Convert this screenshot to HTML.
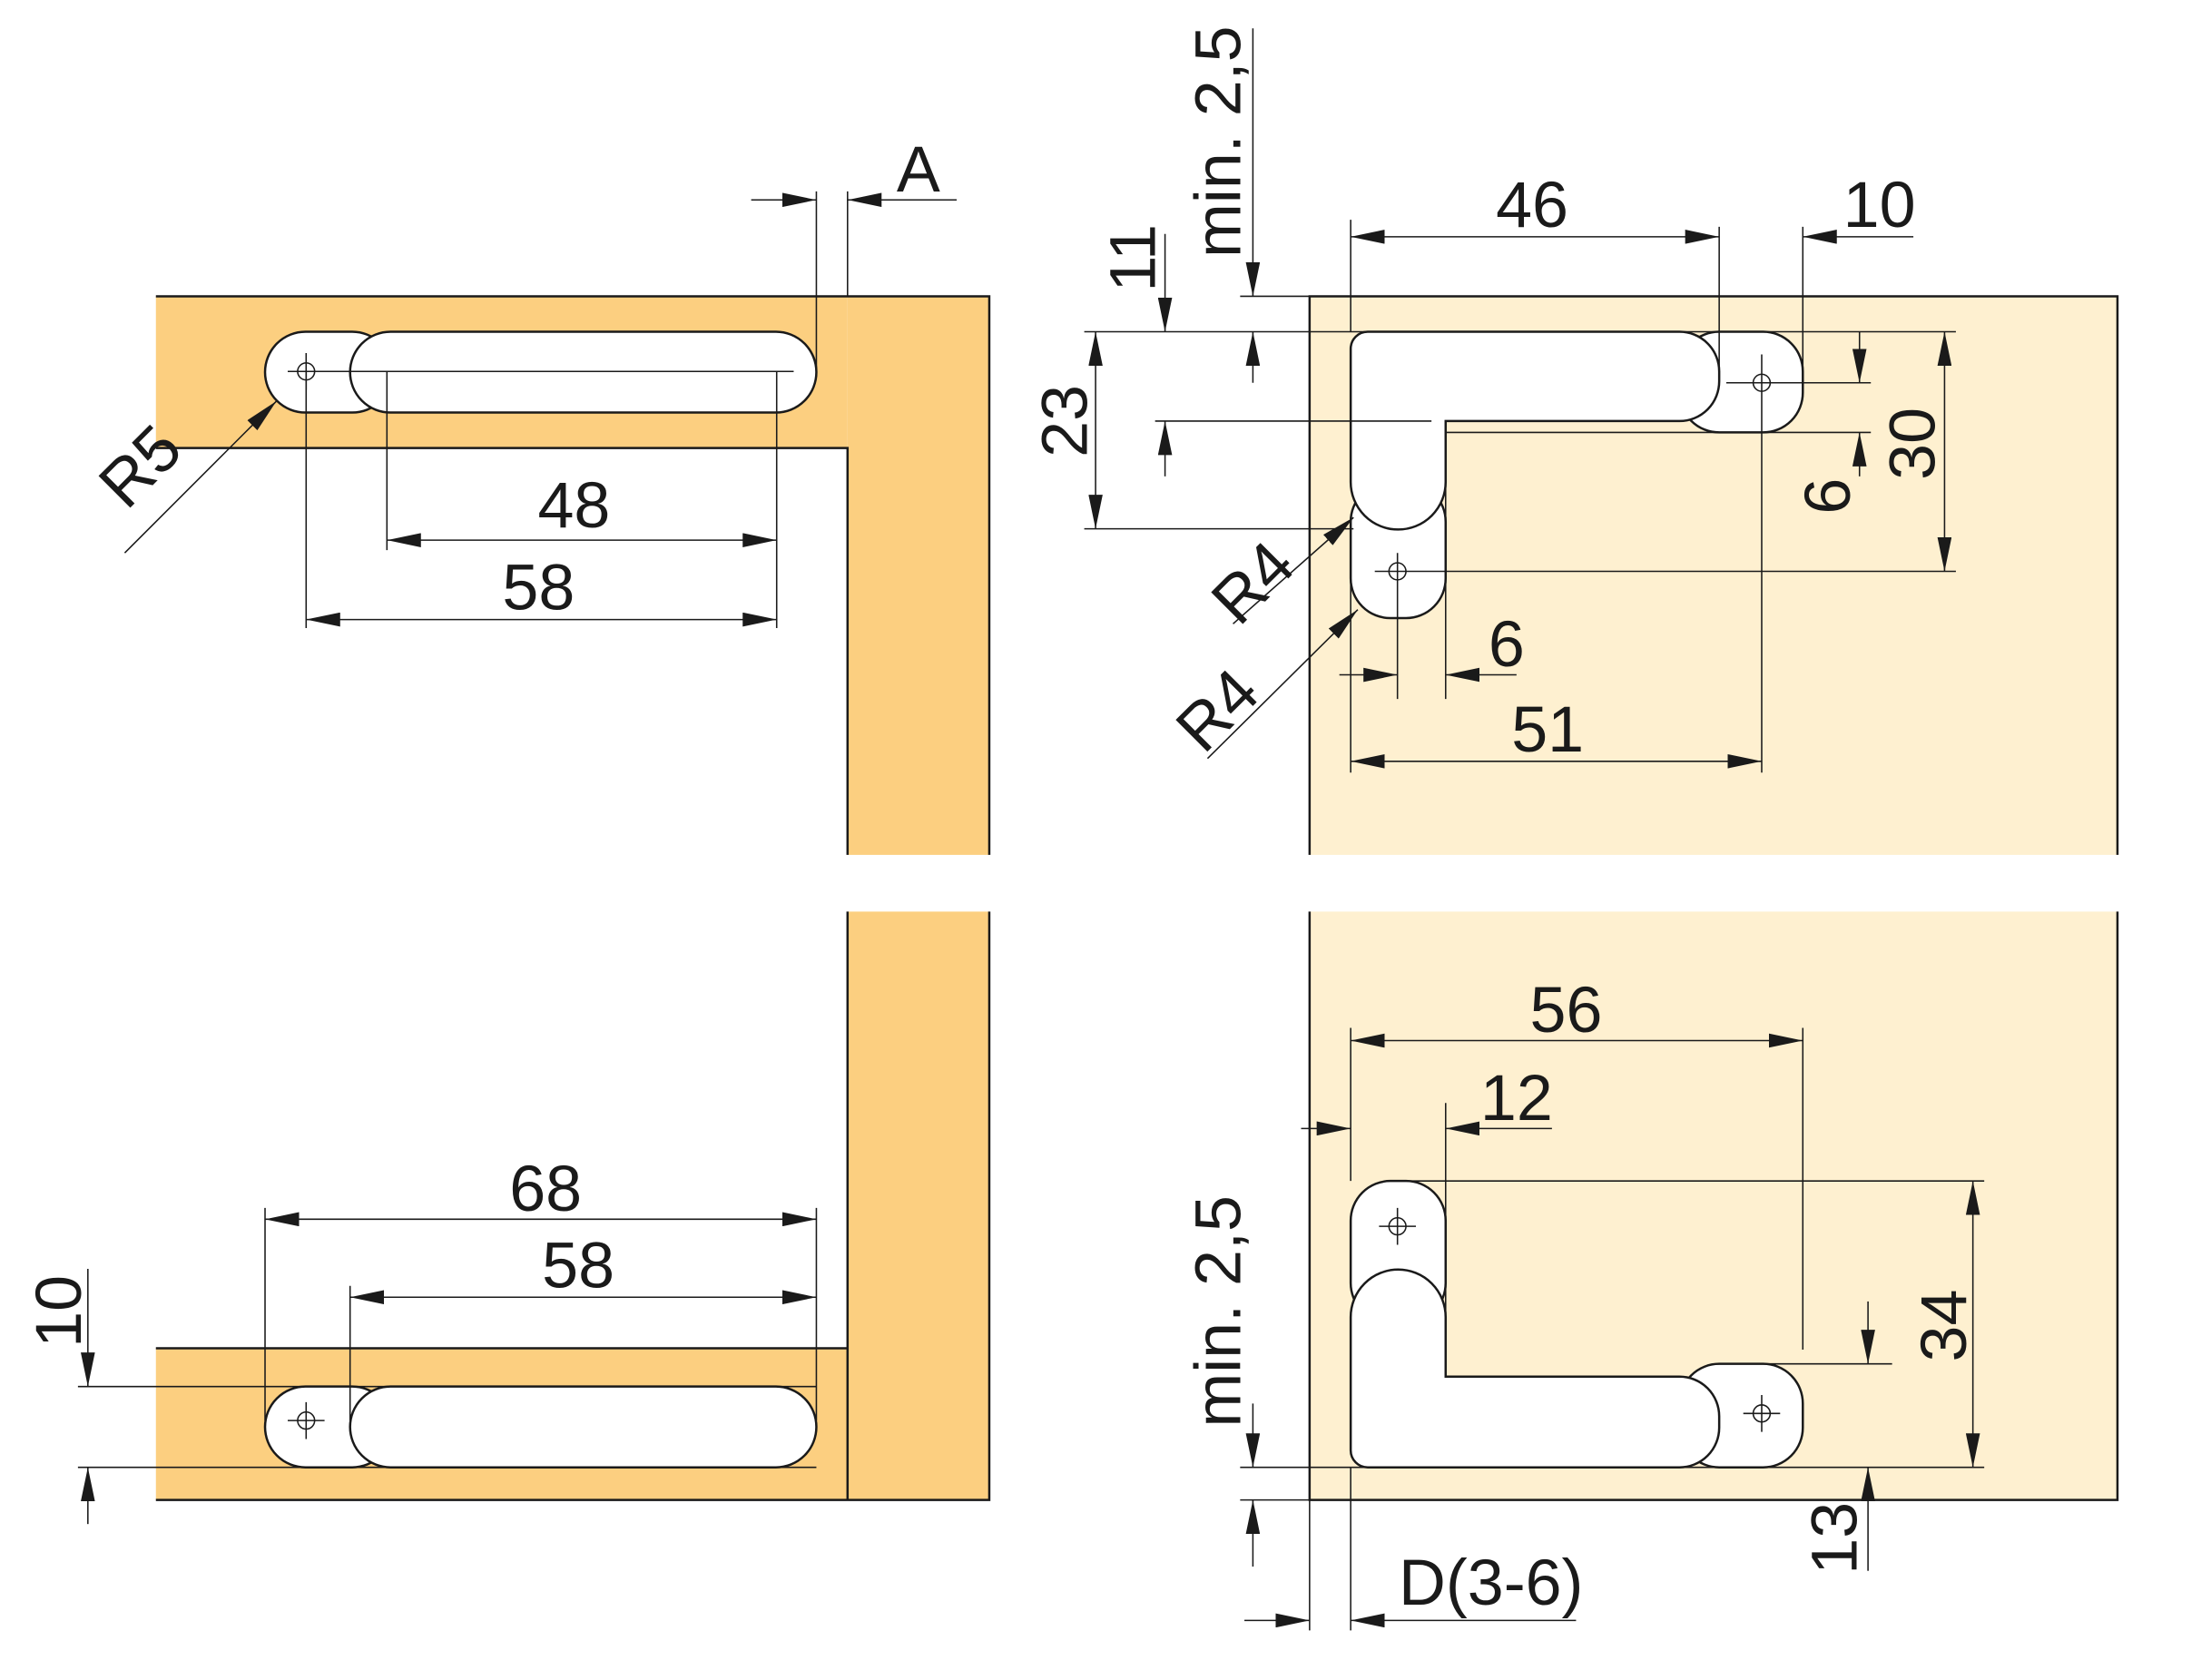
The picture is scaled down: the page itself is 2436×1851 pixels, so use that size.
<!DOCTYPE html>
<html><head><meta charset="utf-8"><style>
html,body{margin:0;padding:0;background:#fff}
svg{display:block}
text{font-family:"Liberation Sans Narrow","Liberation Sans",sans-serif;font-size:46px;fill:#1a1a1a}
</style></head><body>
<svg width="2436" height="1851" viewBox="0 0 1560 1185" preserveAspectRatio="none" xmlns="http://www.w3.org/2000/svg">
<defs>
<marker id="a" viewBox="0 0 24 10" refX="24" refY="5" markerWidth="24" markerHeight="10" markerUnits="userSpaceOnUse" orient="auto-start-reverse"><path d="M0,0 L24,5 L0,10 z" fill="#1a1a1a"/></marker>
</defs>
<g stroke="#1a1a1a" stroke-width="1.6">
<rect x="110" y="209" width="488" height="107" fill="#fccf80" stroke="none"/>
<rect x="598" y="209" width="100" height="394" fill="#fccf80" stroke="none"/>
<path d="M110,209 H698 V603 M598,603 V316 H110" fill="none"/>
<rect x="110" y="951" width="488" height="107" fill="#fccf80" stroke="none"/>
<rect x="598" y="643" width="100" height="415" fill="#fccf80" stroke="none"/>
<path d="M110,951 H598 V643 M698,643 V1058 H110 M598,951 V1058" fill="none"/>
<rect x="924" y="209" width="570" height="394" fill="#fef0d0" stroke="none"/>
<path d="M924,603 V209 H1494 V603" fill="none"/>
<rect x="924" y="643" width="570" height="415" fill="#fef0d0" stroke="none"/>
<path d="M924,643 V1058 H1494 V643" fill="none"/>

<rect x="187" y="234" width="90" height="57" rx="28.5" fill="#fff"/>
<rect x="247" y="234" width="329" height="57" rx="28.5" fill="#fff"/>
<rect x="187" y="978" width="90" height="57" rx="28.5" fill="#fff"/>
<rect x="247" y="978" width="329" height="57" rx="28.5" fill="#fff"/>

<rect x="1185" y="234" width="87" height="71" rx="28" fill="#fff"/>
<rect x="953" y="340" width="67" height="96" rx="28" fill="#fff"/>
<path d="M965,234 H1185 A28,28 0 0 1 1213,262 V269 A28,28 0 0 1 1185,297 H1020 V340 A33.5,33.5 0 0 1 953,340 V246 A12,12 0 0 1 965,234 Z" fill="#fff"/>
<rect x="953" y="833" width="67" height="100" rx="28" fill="#fff"/>
<rect x="1185" y="962" width="87" height="73" rx="28" fill="#fff"/>
<path d="M953,1023 V929 A33.5,33.5 0 0 1 1020,929 V971 H1185 A28,28 0 0 1 1213,999 V1007 A28,28 0 0 1 1185,1035 H965 A12,12 0 0 1 953,1023 Z" fill="#fff"/>
</g>

<g stroke="#1a1a1a" stroke-width="1" fill="none">
<circle cx="216" cy="262" r="6"/><path d="M203,262 H229 M216,249 V275"/>
<circle cx="216" cy="1002" r="6"/><path d="M203,1002 H229 M216,989 V1015"/>
<circle cx="1243" cy="270" r="6"/>
<circle cx="986" cy="403" r="6"/>
<circle cx="986" cy="865" r="6"/><path d="M973,865 H999 M986,852 V878"/>
<circle cx="1243" cy="997" r="6"/><path d="M1230,997 H1256 M1243,984 V1010"/>

<path d="M576,135 V262 M598,135 V209"/>
<path d="M530,141 H576" marker-end="url(#a)"/>
<path d="M675,141 H598" marker-end="url(#a)"/>
<path d="M88,390 L195,283" marker-end="url(#a)"/>
<path d="M216,262 H560"/>
<path d="M273,262 V388 M548,262 V443 M216,262 V443"/>
<path d="M273,381 H548" marker-start="url(#a)" marker-end="url(#a)"/>
<path d="M216,437 H548" marker-start="url(#a)" marker-end="url(#a)"/>

<path d="M875,209 H924 M765,234 H1380"/>
<path d="M884,20 V209" marker-end="url(#a)"/>
<path d="M884,270 V234" marker-end="url(#a)"/>
<path d="M822,165 V234" marker-end="url(#a)"/>
<path d="M822,336 V297" marker-end="url(#a)"/>
<path d="M815,297 H1010"/>
<path d="M765,373 H955"/>
<path d="M773,234 V373" marker-start="url(#a)" marker-end="url(#a)"/>
<path d="M953,155 V234 M1213,160 V262 M1272,160 V262"/>
<path d="M953,167 H1213" marker-start="url(#a)" marker-end="url(#a)"/>
<path d="M1350,167 H1272" marker-end="url(#a)"/>
<path d="M1218,270 H1320 M1243,250 V545 M1020,305 H1320 M970,403 H1380"/>
<path d="M1312,234 V270" marker-end="url(#a)"/>
<path d="M1312,336 V305" marker-end="url(#a)"/>
<path d="M1372,234 V403" marker-start="url(#a)" marker-end="url(#a)"/>
<path d="M870,440 L955,365" marker-end="url(#a)"/>
<path d="M852,535 L958,430" marker-end="url(#a)"/>
<path d="M986,390 V493 M1020,297 V493 M953,373 V545"/>
<path d="M945,476 H986" marker-end="url(#a)"/>
<path d="M1070,476 H1020" marker-end="url(#a)"/>
<path d="M953,537 H1243" marker-start="url(#a)" marker-end="url(#a)"/>

<path d="M187,852 V1002 M576,852 V1002 M247,907 V1002"/>
<path d="M187,860 H576" marker-start="url(#a)" marker-end="url(#a)"/>
<path d="M247,915 H576" marker-start="url(#a)" marker-end="url(#a)"/>
<path d="M55,978 H576 M55,1035 H576"/>
<path d="M62,895 V978" marker-end="url(#a)"/>
<path d="M62,1075 V1035" marker-end="url(#a)"/>

<path d="M953,725 V833 M1272,725 V952"/>
<path d="M953,734 H1272" marker-start="url(#a)" marker-end="url(#a)"/>
<path d="M1020,778 V971"/>
<path d="M918,796 H953" marker-end="url(#a)"/>
<path d="M1095,796 H1020" marker-end="url(#a)"/>
<path d="M986,833 H1400 M953,1035 H1400"/>
<path d="M1392,833 V1035" marker-start="url(#a)" marker-end="url(#a)"/>
<path d="M1213,962 H1335"/>
<path d="M1318,918 V962" marker-end="url(#a)"/>
<path d="M1318,1108 V1035" marker-end="url(#a)"/>
<path d="M875,1035 H953 M875,1058 H924"/>
<path d="M884,990 V1035" marker-end="url(#a)"/>
<path d="M884,1105 V1058" marker-end="url(#a)"/>
<path d="M924,1058 V1150 M953,1035 V1150"/>
<path d="M878,1143 H924" marker-end="url(#a)"/>
<path d="M1112,1143 H953" marker-end="url(#a)"/>
</g>

<g>
<text x="648" y="135" text-anchor="middle">A</text>
<text transform="translate(110,340) rotate(-45)" text-anchor="middle">R5</text>
<text x="405" y="372" text-anchor="middle">48</text>
<text x="380" y="430" text-anchor="middle">58</text>
<text transform="translate(875,100) rotate(-90)" text-anchor="middle">min. 2,5</text>
<text transform="translate(815,182) rotate(-90)" text-anchor="middle">11</text>
<text transform="translate(767,297) rotate(-90)" text-anchor="middle">23</text>
<text x="1081" y="160" text-anchor="middle">46</text>
<text x="1326" y="160" text-anchor="middle">10</text>
<text transform="translate(1305,350) rotate(-90)" text-anchor="middle">6</text>
<text transform="translate(1365,313) rotate(-90)" text-anchor="middle">30</text>
<text transform="translate(895,422) rotate(-45)" text-anchor="middle">R4</text>
<text transform="translate(870,512) rotate(-45)" text-anchor="middle">R4</text>
<text x="1063" y="470" text-anchor="middle">6</text>
<text x="1092" y="530" text-anchor="middle">51</text>
<text x="385" y="854" text-anchor="middle">68</text>
<text x="408" y="908" text-anchor="middle">58</text>
<text transform="translate(57,925) rotate(-90)" text-anchor="middle">10</text>
<text x="1105" y="728" text-anchor="middle">56</text>
<text x="1070" y="790" text-anchor="middle">12</text>
<text transform="translate(1387,935) rotate(-90)" text-anchor="middle">34</text>
<text transform="translate(1310,1085) rotate(-90)" text-anchor="middle">13</text>
<text transform="translate(875,925) rotate(-90)" text-anchor="middle">min. 2,5</text>
<text x="1052" y="1132" text-anchor="middle">D(3-6)</text>
</g>
</svg>
</body></html>
